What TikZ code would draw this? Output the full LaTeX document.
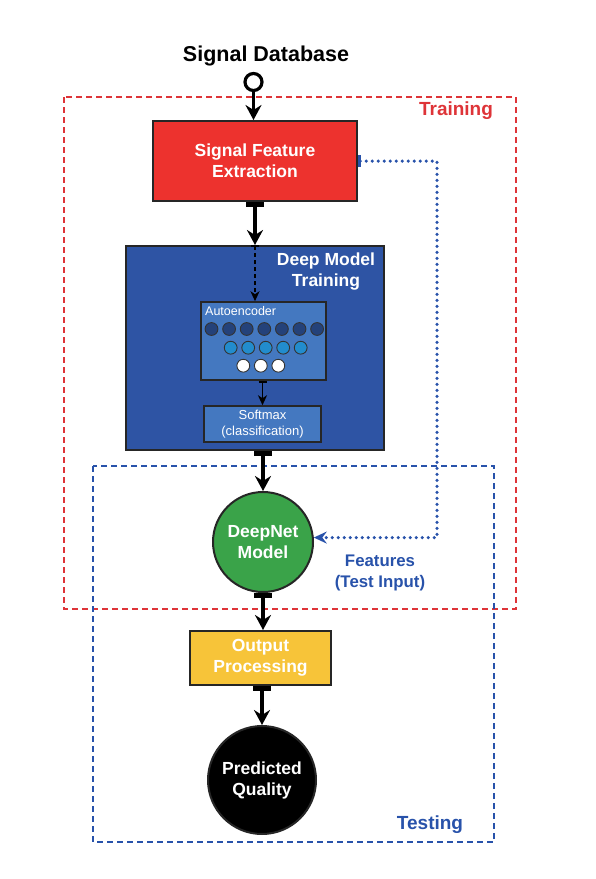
\documentclass[tikz,border=0pt]{standalone}
\usepackage{fontspec}
\setmainfont{Liberation Sans}
\usetikzlibrary{arrows.meta,positioning}
\definecolor{trainred}{RGB}{222,52,56}
\definecolor{testblue}{RGB}{40,82,170}
\definecolor{sfered}{RGB}{237,50,46}
\definecolor{dmtblue}{RGB}{46,84,164}
\definecolor{aeblue}{RGB}{68,120,192}
\definecolor{darkunit}{RGB}{36,66,122}
\definecolor{midunit}{RGB}{34,140,205}
\definecolor{dnmgreen}{RGB}{58,163,73}
\definecolor{opyellow}{RGB}{247,196,57}
\begin{document}
\begin{tikzpicture}[x=1pt, y=-1pt,
  every node/.style={font=\bfseries\fontsize{17.5}{21}\selectfont, align=center},
  box/.style={draw=black!85, line width=2pt, inner sep=0pt, text=white},
  flow/.style={line width=3.4pt, {Bar[width=18pt,line width=5pt]}-{Stealth[length=15pt,width=16pt,inset=5pt]}},
  frame/.style={line width=1.6pt, dash pattern=on 6pt off 4pt}]
\useasboundingbox (0,0) rectangle (595,879);
% Frames
\draw[frame, trainred] (64,97) rectangle (516,609);
\draw[frame, testblue] (93,466) rectangle (494,842);
\node[trainred, font=\bfseries\fontsize{19}{21}\selectfont] (trainlbl) at (456,111) {Training};
\node[testblue, font=\bfseries\fontsize{19}{21}\selectfont] (testlbl) at (430,825) {Testing};
% Input
\node[font=\bfseries\fontsize{21.5}{24}\selectfont] (db) at (266,56) {Signal Database};
\node[circle, draw, line width=3.2pt, fill=white, minimum size=17pt, inner sep=0pt] (src) at (253.5,82) {};
% Blocks
\node[box, fill=sfered, minimum width=204pt, minimum height=80pt] (sfe) at (255,161) {Signal Feature\\Extraction};
\node[box, fill=dmtblue, minimum width=258pt, minimum height=204pt] (dmt) at (255,348) {};
\node[text=white, inner sep=0pt] (dmtlbl) at (326,272) {Deep Model\\Training};
\node[draw=black!85, line width=1.5pt, fill=aeblue, minimum width=125pt, minimum height=78pt, inner sep=0pt] (ae) at (263.5,341) {};
\node[text=white, anchor=west, font=\fontsize{12.5}{15}\selectfont, inner sep=0pt] (aelbl) at (205,311) {Autoencoder};
\foreach \x in {0,...,6} \draw[black!80, fill=darkunit, line width=0.9pt] (211.5+17.6*\x,329) circle (6.4pt);
\foreach \x in {0,...,4} \draw[black!80, fill=midunit, line width=0.9pt] (230.7+17.5*\x,347.7) circle (6.4pt);
\foreach \x in {0,...,2} \draw[black!80, fill=white, line width=0.9pt] (243.3+17.5*\x,365.7) circle (6.4pt);
\node[draw=black!85, line width=1.5pt, fill=aeblue, minimum width=117pt, minimum height=36pt, inner sep=0pt, text=white, font=\fontsize{13}{16}\selectfont] (sm) at (262.5,424) {Softmax\\(classification)};
\node[box, circle, fill=dnmgreen, minimum size=100pt] (dnm) at (263,542) {DeepNet\\Model};
\node[box, fill=opyellow, minimum width=141pt, minimum height=54pt] (op) at (260.5,658) {Output\\Processing};
\node[box, circle, fill=black, minimum size=108pt] (pq) at (262,780) {Predicted\\Quality};
% Connectors
\draw[line width=3.4pt, -{Stealth[length=15pt,width=16pt,inset=5pt]}] (src) -- (src |- sfe.north);
\draw[flow] (sfe.south) -- (dmt.north);
\draw[line width=1.8pt, dash pattern=on 4pt off 3pt, {Bar[width=8pt,line width=1.8pt]}-{Stealth[length=10pt,width=9pt,inset=3pt]}] (dmt.north) -- (ae.north -| dmt.north);
\draw[line width=1.8pt, {Bar[width=8pt,line width=1.8pt]}-{Stealth[length=10pt,width=9pt,inset=3pt]}] (ae.south -| sm.north) -- (sm.north);
\draw[flow] (dmt.south -| dnm.north) -- (dnm.north);
\draw[flow] (dnm.south) -- (op.north -| dnm.south);
\draw[flow] (op.south -| pq.north) -- (pq.north);
% Test features
\draw[testblue, line width=3.5pt, line cap=round, dash pattern=on 0pt off 6pt, {Bar[width=12pt,line width=3pt]}-{Stealth[length=13pt,width=12pt,inset=4.5pt]}] (sfe.east) -- ++(79,0) |- (dnm.5);
\node[testblue, font=\bfseries\fontsize{16.8}{21}\selectfont] (feat) at (380,573) {Features\\(Test Input)};
\end{tikzpicture}
\end{document}
